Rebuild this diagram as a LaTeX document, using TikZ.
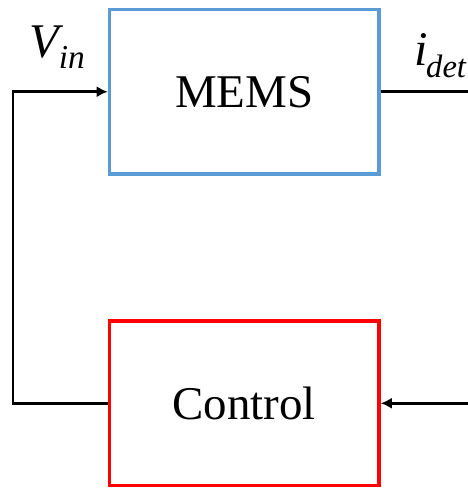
\documentclass[tikz,border=0pt]{standalone}
\usepackage{fontspec}
\setmainfont{Liberation Serif}
\newfontfamily\tnr{Liberation Serif}
\usetikzlibrary{arrows.meta,positioning}
\definecolor{memsblue}{RGB}{91,155,213}

\begin{document}
\begin{tikzpicture}[>={Latex[length=0.22cm,width=0.22cm]}, line width=1.5pt,
  blk/.style={draw, line width=2pt, minimum width=5.39cm, minimum height=3.29cm, font=\tnr\fontsize{26.7}{30}\selectfont},
  lbl/.style={inner sep=0pt, anchor=base west, font=\tnr\itshape\fontsize{27.5}{30}\selectfont}]
\useasboundingbox (0,0) rectangle (9.36,-9.78);
\node[blk, draw=memsblue] (mems) at (4.885,-1.835) {MEMS};
\node[blk, draw=red, below=2.87cm of mems] (ctrl) {Control};
% free ends at the right edge
\coordinate (out) at (9.36,-1.835);
\coordinate (ref) at (out |- ctrl);
\draw (mems.east) -- (out);
\draw[->] (ref) -- (ctrl.east);
% feedback from control back to MEMS
\draw[->] (ctrl.west) -- ++(-1.895,0) |- (mems.west);
\node[lbl] (vin) at (0.56,-1.14) {V\raisebox{-0.22cm}{\fontsize{19}{22}\selectfont in}};
\node[lbl] (idet) at (8.26,-1.3) {i\kern-0.03cm\raisebox{-0.24cm}{\fontsize{18.5}{22}\selectfont det}};
\end{tikzpicture}
\end{document}
